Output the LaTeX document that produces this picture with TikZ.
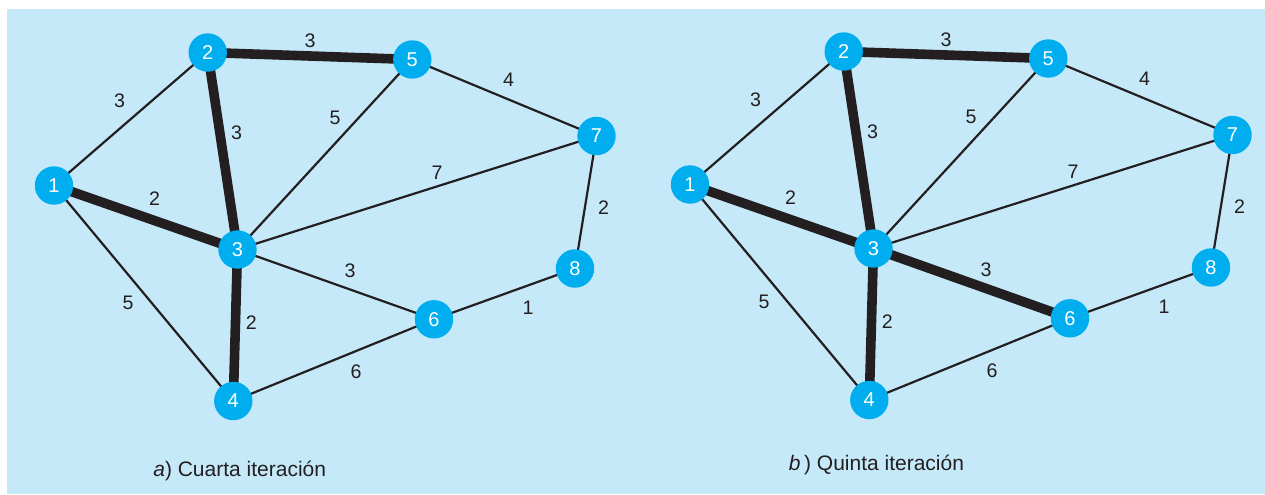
\documentclass[tikz,border=0pt]{standalone}
\usepackage{fontspec}
\setmainfont{Liberation Sans}
\usetikzlibrary{backgrounds}
\definecolor{bgblue}{HTML}{C6E9F9}
\definecolor{nodeblue}{HTML}{00AEEF}
\definecolor{ink}{HTML}{231F20}
\tikzset{
  vtx/.style={circle, fill=nodeblue, draw=none, minimum size=19.2pt, inner sep=0pt, text=white, font=\fontsize{10}{10}\selectfont},
  thin edge/.style={draw=ink, line width=1.1pt},
  thick edge/.style={draw=ink, line width=4.8pt},
  wlabel/.style={text=ink, font=\fontsize{9.8}{10}\selectfont, inner sep=0pt},
  caption/.style={text=ink, font=\fontsize{10.5}{12}\selectfont, inner sep=0pt, anchor=base}
}
\newcommand{\drawgraph}[2]{%
  \node[vtx] (#1v1) at (54,185.5) {1};
  \node[vtx] (#1v2) at (207.7,52.5) {2};
  \node[vtx] (#1v3) at (237.5,249.5) {3};
  \node[vtx] (#1v4) at (233.3,401) {4};
  \node[vtx] (#1v5) at (412.3,59.5) {5};
  \node[vtx] (#1v6) at (434,319.3) {6};
  \node[vtx] (#1v7) at (596.5,136) {7};
  \node[vtx] (#1v8) at (575,268.5) {8};
  \begin{scope}[on background layer]
    \draw[thin edge] (#1v1.center) -- (#1v2.center);
    \draw[thick edge] (#1v2.center) -- (#1v5.center);
    \draw[thick edge] (#1v2.center) -- (#1v3.center);
    \draw[thin edge] (#1v5.center) -- (#1v3.center);
    \draw[thin edge] (#1v5.center) -- (#1v7.center);
    \draw[thick edge] (#1v1.center) -- (#1v3.center);
    \draw[thin edge] (#1v3.center) -- (#1v7.center);
    \draw[thin edge] (#1v7.center) -- (#1v8.center);
    \draw[#2] (#1v3.center) -- (#1v6.center);
    \draw[thin edge] (#1v6.center) -- (#1v8.center);
    \draw[thin edge] (#1v1.center) -- (#1v4.center);
    \draw[thick edge] (#1v3.center) -- (#1v4.center);
    \draw[thin edge] (#1v4.center) -- (#1v6.center);
  \end{scope}
  \node[wlabel] (#1w12) at (119.5,100.5) {3};
  \node[wlabel] (#1w25) at (310,41) {3};
  \node[wlabel] (#1w23) at (236.5,133) {3};
  \node[wlabel] (#1w53) at (335,118) {5};
  \node[wlabel] (#1w57) at (508.5,80) {4};
  \node[wlabel] (#1w13) at (154.5,199) {2};
  \node[wlabel] (#1w37) at (437,172.5) {7};
  \node[wlabel] (#1w78) at (603.5,208) {2};
  \node[wlabel] (#1w36) at (350,271) {3};
  \node[wlabel] (#1w68) at (528,308) {1};
  \node[wlabel] (#1w14) at (128,303) {5};
  \node[wlabel] (#1w34) at (251.3,322.5) {2};
  \node[wlabel] (#1w46) at (356,371.5) {6};
}
\begin{document}
\begin{tikzpicture}[x=0.5pt, y=-0.5pt]
  \useasboundingbox (0,0) rectangle (1265,494);
  \begin{scope}[on background layer]
    \fill[white] (0,0) rectangle (1265,494);
    \fill[bgblue] (7,9) rectangle (1265,494);
  \end{scope}
  \begin{scope}
    \drawgraph{a}{thin edge}
  \end{scope}
  \begin{scope}[shift={(636,-1)}]
    \drawgraph{b}{thick edge}
  \end{scope}
  \node[caption] (capa) at (239.7,476.5) {\textit{a}) Cuarta iteración};
  \node[caption] (capb) at (876.5,470) {\textit{b}\,) Quinta iteración};
\end{tikzpicture}
\end{document}
